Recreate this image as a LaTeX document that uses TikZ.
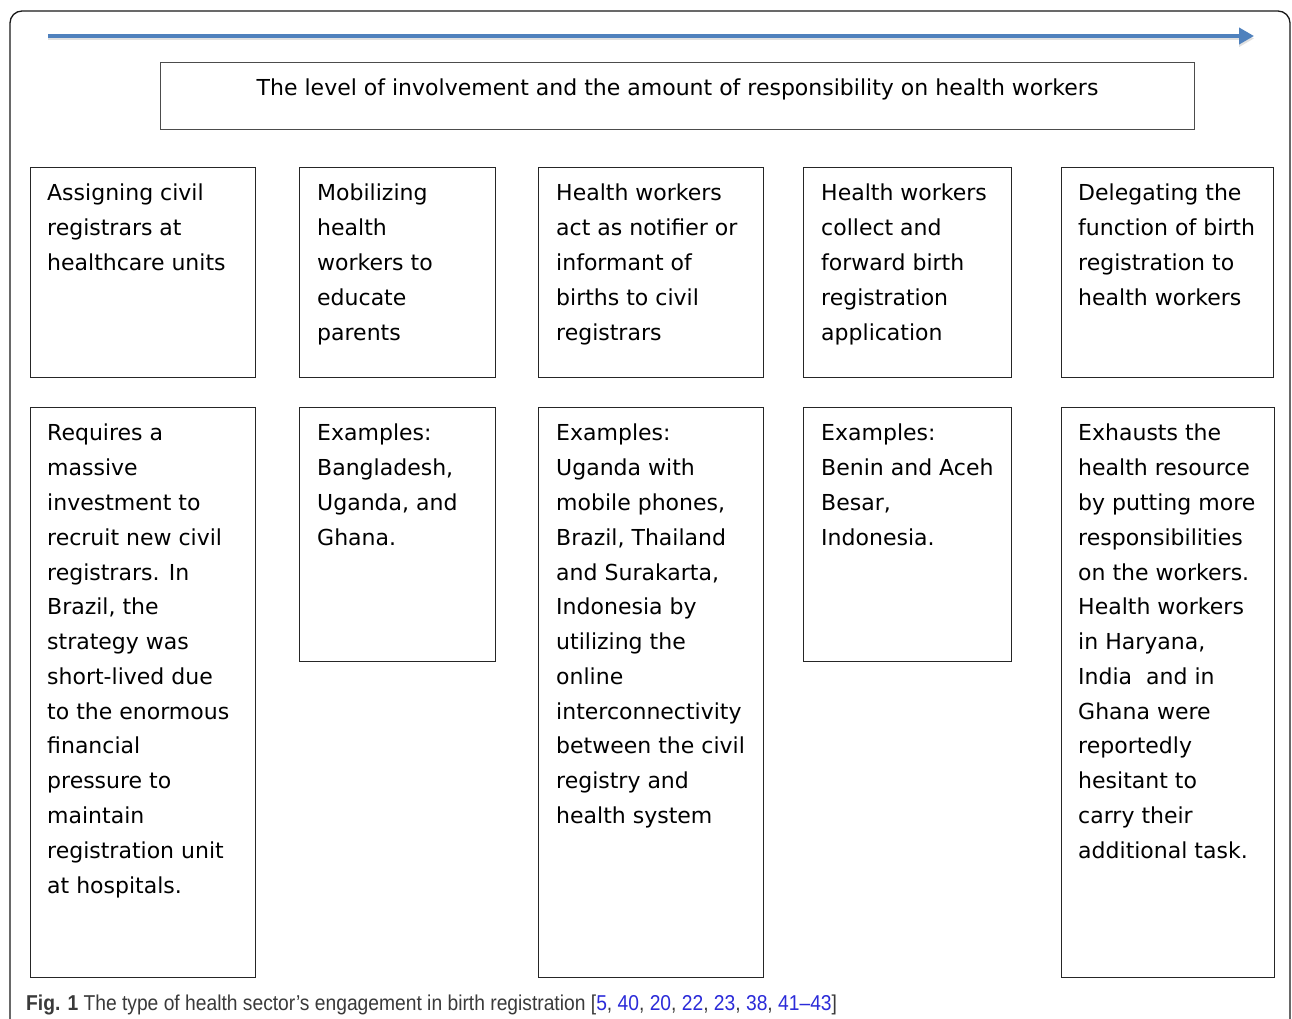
\documentclass[tikz,border=0pt]{standalone}
\usepackage{fontspec}
\setmainfont{DejaVu Sans}
\newfontfamily\capfont{Liberation Sans}[FakeStretch=0.895]
\usetikzlibrary{arrows.meta}
\definecolor{arrowblue}{HTML}{4F81BD}
\definecolor{refblue}{HTML}{2B2BD9}
\definecolor{capgray}{HTML}{3A3A3A}
\tikzset{
  box/.style={draw=black!85, line width=1.1pt, anchor=north west, inner sep=0pt},
  txt/.style={anchor=north west, inner sep=0pt, align=left, font=\fontsize{22}{34.78}\selectfont},
}
\begin{document}
\begin{tikzpicture}[x=1pt,y=-1pt]
\clip (0,0) rectangle (1292,1019);
\fill[white] (0,0) rectangle (1292,1019);
% outer frame
\draw[line width=1.3pt, rounded corners=12pt, black!90] (10,11) rectangle (1290,1060);
% arrow
\coordinate (as) at (48,38.5);
\coordinate (ae) at (1254,38.5);
\draw[line width=4pt, black!12, -{Triangle[length=15pt,width=16pt]}] (as) -- (ae);
\coordinate (bs) at (48,36);
\coordinate (be) at (1254,36);
\draw[line width=3.8pt, arrowblue, -{Triangle[length=15pt,width=16pt]}] (bs) -- (be);
% title box
\node[box, draw=black!70, minimum width=1034pt, minimum height=67pt] (tbox) at (160,62) {};
\node[anchor=north, inner sep=0pt, font=\fontsize{22}{34.8}\selectfont] (ttxt) at ([yshift=-17pt]tbox.north) {The level of involvement and the amount of responsibility on health workers};
% top row
\node[box, minimum width=225pt, minimum height=210pt] (t1) at (30,167) {};
\node[box, minimum width=196pt, minimum height=210pt] (t2) at (299,167) {};
\node[box, minimum width=225pt, minimum height=210pt] (t3) at (538,167) {};
\node[box, minimum width=208pt, minimum height=210pt] (t4) at (803,167) {};
\node[box, minimum width=212pt, minimum height=210pt] (t5) at (1061,167) {};
\node[txt] (tt1) at ([xshift=17pt,yshift=-17pt]t1.north west) {Assigning civil\\registrars at\\healthcare units};
\node[txt] (tt2) at ([xshift=18pt,yshift=-17pt]t2.north west) {Mobilizing\\health\\workers to\\educate\\parents};
\node[txt] (tt3) at ([xshift=18pt,yshift=-17pt]t3.north west) {Health workers\\act as notifier or\\informant of\\births to civil\\registrars};
\node[txt] (tt4) at ([xshift=18pt,yshift=-17pt]t4.north west) {Health workers\\collect and\\forward birth\\registration\\application};
\node[txt] (tt5) at ([xshift=17pt,yshift=-17pt]t5.north west) {Delegating the\\function of birth\\registration to\\health workers};
% bottom row
\node[box, minimum width=225pt, minimum height=570pt] (b1) at (30,407) {};
\node[box, minimum width=196pt, minimum height=254pt] (b2) at (299,407) {};
\node[box, minimum width=225pt, minimum height=570pt] (b3) at (538,407) {};
\node[box, minimum width=208pt, minimum height=254pt] (b4) at (803,407) {};
\node[box, minimum width=213pt, minimum height=570pt] (b5) at (1061,407) {};
\node[txt] (bt1) at ([xshift=17pt,yshift=-17pt]b1.north west) {Requires a\\massive\\investment to\\recruit new civil\\registrars. In\\Brazil, the\\strategy was\\short-lived due\\to the enormous\\financial\\pressure to\\maintain\\registration unit\\at hospitals.};
\node[txt] (bt2) at ([xshift=18pt,yshift=-17pt]b2.north west) {Examples:\\Bangladesh,\\Uganda, and\\Ghana.};
\node[txt] (bt3) at ([xshift=18pt,yshift=-17pt]b3.north west) {Examples:\\Uganda with\\mobile phones,\\Brazil, Thailand\\and Surakarta,\\Indonesia by\\utilizing the\\online\\interconnectivity\\between the civil\\registry and\\health system};
\node[txt] (bt4) at ([xshift=18pt,yshift=-17pt]b4.north west) {Examples:\\Benin and Aceh\\Besar,\\Indonesia.};
\node[txt] (bt5) at ([xshift=17pt,yshift=-17pt]b5.north west) {Exhausts the\\health resource\\by putting more\\responsibilities\\on the workers.\\Health workers\\in Haryana,\\India~ and in\\Ghana were\\reportedly\\hesitant to\\carry their\\additional task.};
% caption
\node[anchor=base west, inner sep=0pt, text=capgray, font=\capfont\fontsize{21.5}{24}\selectfont] (cap) at (26,1010) {{\bfseries Fig. 1} The type of health sector’s engagement in birth registration [\textcolor{refblue}{5}, \textcolor{refblue}{40}, \textcolor{refblue}{20}, \textcolor{refblue}{22}, \textcolor{refblue}{23}, \textcolor{refblue}{38}, \textcolor{refblue}{41–43}]};
\end{tikzpicture}
\end{document}
